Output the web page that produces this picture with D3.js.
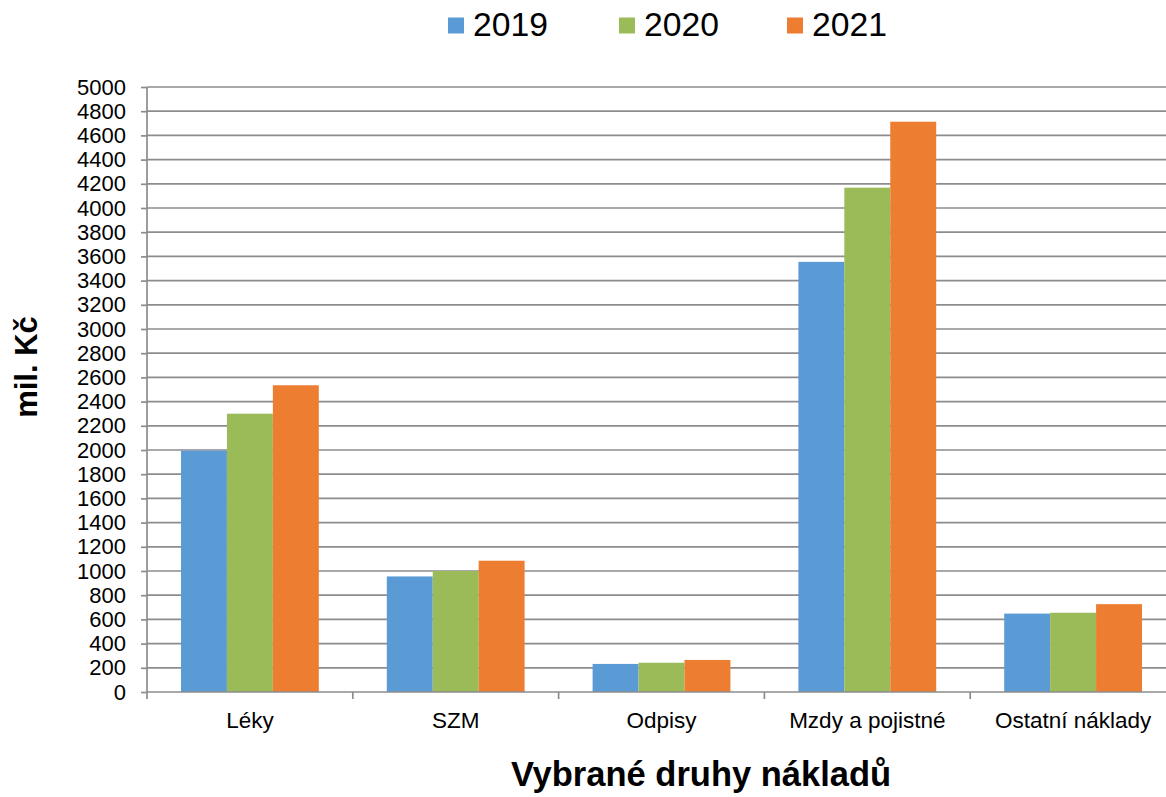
<!DOCTYPE html>
<html><head><meta charset="utf-8">
<script src="https://cdn.jsdelivr.net/npm/d3@7"></script>
<style>body{margin:0;background:#fff;} svg{display:block;font-family:"Liberation Sans",Arial,sans-serif;}</style>
</head><body><svg id="c" width="1166" height="797"></svg>
<script>
const categories = ["Léky","SZM","Odpisy","Mzdy a pojistné","Ostatní náklady"];
const seriesNames = ["2019","2020","2021"];
const values2019 = [1995, 955, 232, 3555, 648];
const values2020 = [2300, 1000, 242, 4168, 655];
const values2021 = [2535, 1085, 265, 4713, 726];
const colors = ["#5B9BD5","#9BBB59","#ED7D31"];
const yTicks = d3.range(0, 5001, 200);

const series = [values2019, values2020, values2021];
const svg = d3.select("#c");
const m = {l:147, r:1176, t:87, b:692};
const x = d3.scaleBand().domain(categories).range([m.l, m.r]).paddingInner(0).paddingOuter(0);
const xs = d3.scaleBand().domain(seriesNames).range([0, x.bandwidth()]).paddingInner(0).paddingOuter(0.74);
const y = d3.scaleLinear().domain([0,5000]).range([m.b, m.t]);
const grid = "#8c8c8c";

// gridlines
svg.append("g").selectAll("line").data(yTicks.filter(d=>d>0)).join("line")
  .attr("x1", m.l).attr("x2", m.r).attr("y1", d=>y(d)).attr("y2", d=>y(d))
  .attr("stroke", grid).attr("stroke-width", 1.7);

// bars
const g = svg.append("g");
series.forEach((vals, si) => {
  g.selectAll(null).data(categories).join("rect")
    .attr("x", c => x(c) + xs(seriesNames[si]))
    .attr("width", xs.bandwidth())
    .attr("y", (c,i) => y(vals[i]))
    .attr("height", (c,i) => y(0) - y(vals[i]))
    .attr("fill", colors[si]);
});

// y axis
const ya = svg.append("g").attr("transform", `translate(${m.l},0)`)
  .call(d3.axisLeft(y).tickValues(yTicks).tickSize(6).tickPadding(15).tickFormat(d3.format("d")));
ya.select(".domain").attr("stroke", grid).attr("stroke-width", 1.7).attr("d", `M0,${m.t}V${m.b}`);
ya.selectAll(".tick line").attr("stroke", grid).attr("stroke-width", 1.7);
ya.selectAll("text").attr("font-size", 22).attr("fill", "#000").attr("font-family", "Liberation Sans, Arial, sans-serif");

// x axis
const xa = svg.append("g").attr("transform", `translate(0,${m.b})`);
xa.append("line").attr("x1", m.l).attr("x2", m.r).attr("stroke", grid).attr("stroke-width", 1.7);
xa.selectAll(".tk").data(categories.map(c=>x(c)).concat([m.r])).join("line")
  .attr("x1", d=>d).attr("x2", d=>d).attr("y1", 0).attr("y2", 7)
  .attr("stroke", grid).attr("stroke-width", 1.7);
xa.selectAll("text").data(categories).join("text")
  .attr("x", c => x(c) + x.bandwidth()/2).attr("y", 36)
  .attr("text-anchor", "middle").attr("font-size", 22.5).attr("fill", "#000").text(c=>c);

// axis titles
svg.append("text").attr("transform", "translate(37,367) rotate(-90)")
  .attr("text-anchor", "middle").attr("font-size", 31).attr("font-weight", "bold").text("mil. Kč");
svg.append("text").attr("x", 701).attr("y", 786)
  .attr("text-anchor", "middle").attr("font-size", 34.5).attr("font-weight", "bold").text("Vybrané druhy nákladů");

// legend
const legX = [448, 619, 787];
const lg = svg.append("g");
seriesNames.forEach((s, i) => {
  lg.append("rect").attr("x", legX[i]).attr("y", 17.5).attr("width", 16).attr("height", 16).attr("fill", colors[i]);
  lg.append("text").attr("x", legX[i] + 25).attr("y", 36).attr("font-size", 33.7).attr("fill", "#000").text(s);
});
</script></body></html>
